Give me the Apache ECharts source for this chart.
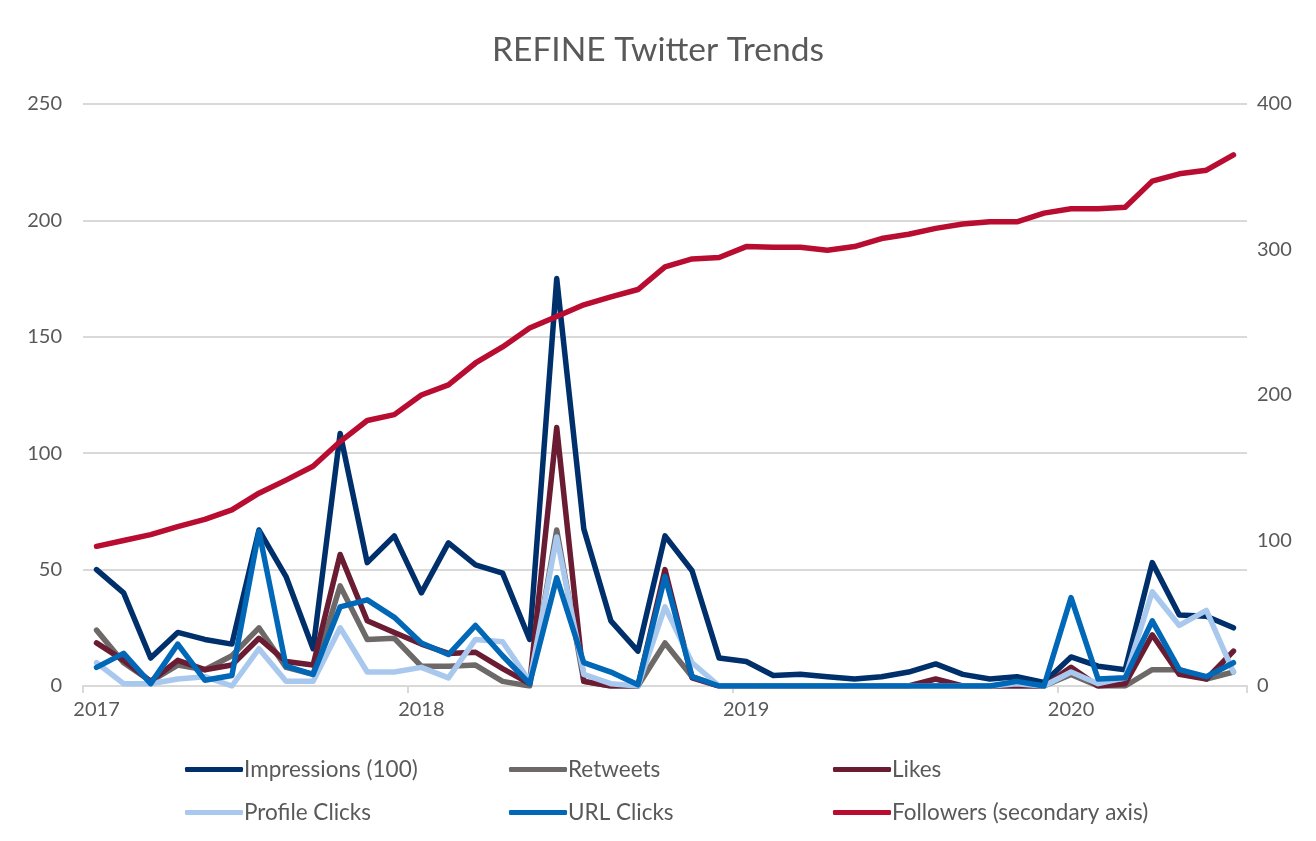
<!DOCTYPE html>
<html>
<head>
<meta charset="utf-8">
<script src="https://cdn.jsdelivr.net/npm/echarts@6/dist/echarts.min.js"></script>
<style>
html,body{margin:0;padding:0;background:#fff;}
#chart{width:1316px;height:841px;}
</style>
</head>
<body>
<div id="chart"></div>
<script>
var months = [];
(function(){
  var names = ['Jan','Feb','Mar','Apr','May','Jun','Jul','Aug','Sep','Oct','Nov','Dec'];
  for (var y = 2017; y <= 2020; y++) {
    for (var m = 0; m < 12; m++) {
      if (y === 2020 && m > 6) break;
      months.push(names[m] + ' ' + y);
    }
  }
})();

var impressions = [50, 40, 12, 23, 20, 18, 67, 47, 16, 108.5, 53, 64.5,
  40, 61.5, 52, 48.5, 20, 175, 67.5, 28, 15, 64.5, 49.5, 12,
  10.5, 4.5, 5, 4, 3, 4, 6, 9.5, 5, 3, 4, 1.5,
  12.5, 8.5, 7, 53, 30.5, 30, 25];
var retweets = [24, 10, 2, 9, 7, 13, 25, 8, 5, 43, 20, 20.5,
  8.5, 8.5, 9, 2, 0, 67, 2, 0, 0, 18.5, 4, 0,
  0, 0, 0, 0, 0, 0, 0, 0, 0, 0, 0, 0,
  5, 0, 0, 7, 7, 3, 6];
var likes = [18.5, 11, 2, 11, 7, 9, 20.5, 10.5, 9, 56.5, 28, 23,
  18, 14, 14.5, 7.5, 1, 111, 2, 0, 0, 50, 3.5, 0,
  0, 0, 0, 0, 0, 0, 0, 3, 0, 0, 0, 0,
  8, 0, 1, 22, 5, 3, 15];
var profileClicks = [10, 1, 1, 3, 4, 0, 16, 2, 2, 25, 6, 6,
  8, 3.5, 20, 19, 2, 64, 5, 1, 0, 34, 10, 0,
  0, 0, 0, 0, 0, 0, 0, 0, 0, 0, 1, 0,
  6, 1, 3.5, 40.5, 26, 32.5, 6];
var urlClicks = [8, 14, 1, 18, 2.5, 4.5, 66.5, 8.5, 5, 34, 37, 29.5,
  18.5, 13.5, 26, 13, 1, 46.5, 10, 6, 0.5, 47, 4, 0,
  0, 0, 0, 0, 0, 0, 0, 0, 0, 0, 2, 0,
  38, 3, 3.5, 28, 7, 4, 10];
var followers = [96, 100, 104, 109.5, 114.5, 121, 132.5, 141.5, 151, 168, 182.5, 186.5,
  200, 207, 222, 233, 246, 254, 262, 267.5, 272.5, 288, 293.5, 294.5,
  302, 301.5, 301.5, 299.5, 302, 307.5, 310.5, 314.5, 317.5, 319, 319, 325,
  328, 328, 329, 347, 352, 354.5, 365];

var seriesNames = ['Impressions (100)', 'Retweets', 'Likes', 'Profile Clicks', 'URL Clicks', 'Followers (secondary axis)'];
var seriesColors = ['#00306b', '#6e6969', '#6a1c33', '#a9c8ee', '#0068b7', '#b90c31'];
var seriesData = [impressions, retweets, likes, profileClicks, urlClicks, followers];

var FONT = 'Lato, "Open Sans", sans-serif';
var TXT = '#595959';

var series = seriesData.map(function(d, i){
  return {
    name: seriesNames[i],
    type: 'line',
    data: d,
    yAxisIndex: i === 5 ? 1 : 0,
    symbol: 'none',
    smooth: false,
    z: 2 + i,
    lineStyle: {color: seriesColors[i], width: 5.5, join: 'round', cap: 'round'},
    itemStyle: {color: seriesColors[i]}
  };
});

var legendPos = [[185, 758], [509, 758], [833, 758], [185, 801], [509, 801], [833, 801]];
var legends = seriesNames.map(function(n, i){
  return {
    data: [n],
    left: legendPos[i][0],
    top: legendPos[i][1],
    icon: 'roundRect',
    itemWidth: 58,
    itemHeight: 5,
    padding: 0,
    textStyle: {fontFamily: FONT, fontSize: 22.5, color: TXT, padding: [0, 0, 0, -4]}
  };
});

var chart = echarts.init(document.getElementById('chart'), null, {renderer: 'canvas'});
chart.setOption({
  animation: false,
  backgroundColor: '#fff',
  title: {
    text: 'REFINE Twitter Trends',
    left: 'center',
    top: 28,
    textStyle: {fontFamily: FONT, fontSize: 33.5, fontWeight: 'normal', color: TXT}
  },
  legend: legends,
  grid: {left: 83, right: 69, top: 104, bottom: 155, containLabel: false},
  xAxis: {
    type: 'category',
    data: months,
    boundaryGap: true,
    axisLine: {show: true, lineStyle: {color: '#d9d9d9', width: 2}},
    axisTick: {show: true, interval: 11, length: 7, lineStyle: {color: '#d9d9d9', width: 2}},
    axisLabel: {
      interval: 11,
      margin: 14,
      fontFamily: FONT, fontSize: 20, color: TXT,
      formatter: function(v){ return v.split(' ')[1]; }
    },
    splitLine: {show: false}
  },
  yAxis: [{
    type: 'value',
    min: 0, max: 250, interval: 50,
    axisLine: {show: false},
    axisTick: {show: false},
    axisLabel: {margin: 21, fontFamily: FONT, fontSize: 20, color: TXT},
    splitLine: {show: true, lineStyle: {color: '#d9d9d9', width: 2}}
  }, {
    type: 'value',
    min: 0, max: 400, interval: 100,
    position: 'right',
    axisLine: {show: false},
    axisTick: {show: false},
    axisLabel: {margin: 10, fontFamily: FONT, fontSize: 20, color: TXT},
    splitLine: {show: false}
  }],
  series: series
});
</script>
</body>
</html>
